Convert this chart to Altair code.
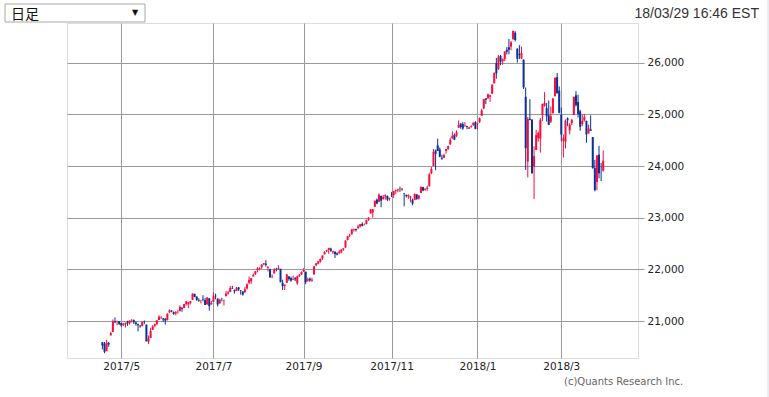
import altair as alt
import pandas as pd

# Daily candles (trading days 2017/04/18 - 2018/03/29)
opens = [
    # 2017 Apr
    20590, 20561, 20417, 20575, 20722, 20790, 20990, 20980, 20995,
    # May
    20962, 20925, 20940, 20985, 20960, 21005, 21015, 20970, 20940, 20910, 20900,
    20990, 20930, 20600, 20670, 20830, 20905, 20940, 21020, 21070, 21050, 21040,
    # Jun
    21020, 21170, 21200, 21170, 21150, 21180, 21190, 21260, 21250, 21330, 21320,
    21350, 21410, 21525, 21470, 21410, 21390, 21420, 21405, 21320, 21440, 21320,
    # Jul
    21370, 21490, 21430, 21340, 21410, 21400, 21480, 21530, 21560, 21640, 21600,
    21580, 21650, 21590, 21570, 21560, 21630, 21740, 21770, 21860,
    # Aug
    21900, 21990, 22010, 22040, 22100, 22110, 22030, 22000, 21850, 21920, 22010,
    22010, 22010, 21740, 21680, 21740, 21860, 21830, 21800, 21830, 21730, 21870, 21900,
    # Sep
    21960, 21950, 21780, 21820, 21780, 21900, 22080, 22110, 22150, 22210, 22290,
    22350, 22380, 22400, 22330, 22340, 22310, 22320, 22330, 22380,
    # Oct
    22420, 22570, 22650, 22680, 22760, 22780, 22800, 22830, 22880, 22870, 22880,
    22960, 23080, 23100, 23210, 23350, 23310, 23420, 23360, 23410, 23420, 23360,
    # Nov
    23440, 23440, 23520, 23530, 23560, 23540, 23470, 23440, 23410, 23390, 23340,
    23340, 23450, 23370, 23480, 23590, 23540, 23560, 23610, 23860, 24000,
    # Dec
    24300, 24400, 24320, 24160, 24160, 24290, 24330, 24420, 24540, 24600, 24590,
    24740, 24820, 24810, 24770, 24770, 24720, 24760, 24790, 24850,
    # 2018 Jan
    24810, 24850, 24970, 25115, 25310, 25310, 25340, 25400, 25600, 25990, 25880,
    26130, 26030, 26070, 26250, 26300, 26310, 26460, 26580, 26270, 26170,
    # Feb
    26080, 26060, 25340, 24085, 24916, 24900, 23990, 24310, 24540, 24530, 24990,
    25160, 25120, 24980, 24860, 25020, 25350, 25720, 25460,
    # Mar
    24990, 24488, 24470, 24920, 24690, 24830, 24990, 25370, 25240, 25060, 24810,
    24880, 24870, 24630, 24710, 24560, 23960, 23690, 24220, 23850, 23910,
]
highs = [
    20590, 20595, 20636, 20598, 20791, 21030, 21070, 21010, 21000,
    20963, 20960, 20970, 21005, 21010, 21040, 21030, 20990, 20950, 20920, 20990,
    21010, 20930, 20720, 20870, 20920, 20950, 21020, 21110, 21090, 21060, 21060,
    21145, 21225, 21210, 21185, 21190, 21215, 21305, 21260, 21330, 21390, 21370,
    21390, 21535, 21530, 21480, 21440, 21410, 21500, 21450, 21460, 21445, 21390,
    21560, 21530, 21440, 21430, 21450, 21410, 21580, 21580, 21680, 21680, 21610,
    21660, 21660, 21600, 21580, 21660, 21730, 21860, 21830, 21920,
    21970, 22040, 22040, 22100, 22120, 22180, 22060, 22010, 21900, 22020, 22030,
    22080, 22010, 21800, 21710, 21910, 21870, 21860, 21880, 21850, 21880, 21910, 21960,
    22020, 21960, 21840, 21840, 21840, 22070, 22120, 22160, 22210, 22270, 22350,
    22380, 22420, 22420, 22360, 22350, 22330, 22380, 22390, 22410,
    22560, 22650, 22690, 22780, 22790, 22790, 22860, 22880, 22910, 22890, 22960,
    23010, 23170, 23170, 23330, 23370, 23470, 23430, 23440, 23450, 23430, 23390,
    23500, 23520, 23540, 23560, 23600, 23570, 23480, 23450, 23450, 23420, 23370,
    23470, 23460, 23440, 23610, 23600, 23570, 23620, 23870, 23980, 24330,
    24320, 24530, 24360, 24220, 24240, 24330, 24390, 24550, 24672, 24630, 24690,
    24880, 24830, 24850, 24850, 24780, 24760, 24790, 24840, 24870,
    24830, 24940, 25105, 25300, 25310, 25400, 25380, 25580, 25810, 26090, 26150,
    26150, 26080, 26220, 26300, 26460, 26420, 26617, 26610, 26280, 26340,
    26310, 26060, 25520, 24950, 25293, 24900, 24380, 24700, 24670, 24930, 25210,
    25430, 25220, 25270, 25150, 25310, 25710, 25800, 25540,
    25130, 24610, 24900, 24940, 24830, 24910, 25350, 25450, 25380, 25090, 24990,
    25010, 24880, 24800, 24980, 24560, 24120, 24210, 24390, 24060, 24300,
]
lows = [
    20451, 20376, 20417, 20501, 20722, 20790, 20960, 20920, 20925,
    20890, 20900, 20875, 20905, 20930, 20970, 20940, 20910, 20800, 20870, 20900,
    20940, 20606, 20553, 20670, 20830, 20880, 20920, 21020, 21040, 20980, 20930,
    21010, 21150, 21170, 21120, 21110, 21140, 21190, 21180, 21250, 21300, 21250,
    21320, 21410, 21460, 21390, 21370, 21340, 21380, 21310, 21320, 21200, 21320,
    21370, 21420, 21280, 21340, 21380, 21300, 21480, 21510, 21560, 21620, 21530,
    21580, 21580, 21510, 21490, 21540, 21610, 21710, 21720, 21860,
    21890, 21940, 21980, 22010, 22080, 22050, 21960, 21840, 21830, 21920, 21960,
    21990, 21750, 21600, 21600, 21740, 21780, 21760, 21790, 21770, 21700, 21850, 21890,
    21950, 21710, 21760, 21760, 21760, 21900, 22060, 22100, 22130, 22180, 22290,
    22330, 22300, 22340, 22300, 22220, 22270, 22290, 22310, 22360,
    22420, 22560, 22620, 22670, 22730, 22730, 22780, 22810, 22830, 22850, 22870,
    22940, 23080, 23000, 23210, 23260, 23300, 23200, 23350, 23350, 23320, 23330,
    23400, 23380, 23460, 23490, 23500, 23520, 23220, 23390, 23360, 23300, 23240,
    23340, 23350, 23350, 23480, 23510, 23520, 23520, 23600, 23840, 24000,
    23920, 24290, 24170, 24120, 24150, 24240, 24310, 24410, 24520, 24500, 24560,
    24740, 24720, 24700, 24760, 24710, 24720, 24740, 24780, 24710,
    24710, 24830, 24970, 25100, 25200, 25300, 25240, 25400, 25600, 25690, 25860,
    25950, 25960, 26030, 26160, 26160, 26240, 26440, 26410, 26000, 26070,
    26070, 25490, 23924, 23779, 24882, 23850, 23360, 24310, 24470, 24260, 24870,
    25150, 24860, 24790, 24830, 25020, 25350, 25400, 25020,
    24480, 24163, 24340, 24770, 24610, 24790, 24990, 25150, 24940, 24680, 24770,
    24860, 24450, 24630, 24680, 23950, 23510, 23530, 23760, 23710, 23890,
]
closes = [
    20523, 20404, 20578, 20547, 20764, 20996, 20975, 20981, 20941,
    20913, 20950, 20958, 20951, 21007, 21012, 20976, 20943, 20919, 20897, 20982,
    20980, 20607, 20663, 20805, 20895, 20938, 21012, 21083, 21080, 21029, 21009,
    21144, 21206, 21184, 21136, 21174, 21183, 21272, 21236, 21328, 21375, 21360,
    21384, 21529, 21467, 21410, 21397, 21395, 21410, 21311, 21455, 21287, 21350,
    21479, 21478, 21320, 21414, 21409, 21409, 21532, 21553, 21638, 21630, 21575,
    21641, 21612, 21580, 21513, 21613, 21711, 21797, 21830, 21891,
    21964, 22016, 22026, 22093, 22118, 22085, 22049, 21844, 21858, 21994, 21999,
    22025, 21751, 21675, 21704, 21900, 21812, 21783, 21814, 21808, 21865, 21892, 21948,
    21988, 21753, 21808, 21785, 21798, 22057, 22119, 22158, 22203, 22268, 22331,
    22371, 22413, 22359, 22350, 22296, 22284, 22341, 22381, 22405,
    22558, 22642, 22662, 22775, 22774, 22761, 22831, 22873, 22841, 22872, 22957,
    22997, 23158, 23163, 23329, 23274, 23442, 23329, 23401, 23434, 23349, 23377,
    23435, 23516, 23539, 23548, 23557, 23563, 23462, 23422, 23440, 23409, 23271,
    23458, 23358, 23430, 23591, 23526, 23558, 23581, 23837, 23941, 24272,
    24232, 24290, 24181, 24141, 24211, 24329, 24386, 24505, 24585, 24509, 24652,
    24792, 24755, 24727, 24782, 24754, 24746, 24774, 24838, 24719,
    24824, 24923, 25075, 25296, 25283, 25386, 25369, 25575, 25803, 25793, 26116,
    26018, 26072, 26215, 26211, 26252, 26393, 26617, 26439, 26077, 26149,
    26187, 25521, 24346, 24913, 24893, 23860, 24191, 24601, 24640, 24893, 25200,
    25219, 24965, 24798, 24962, 25310, 25709, 25410, 25029,
    24609, 24538, 24875, 24884, 24801, 24895, 25336, 25179, 25007, 24758, 24874,
    24947, 24611, 24727, 24682, 23958, 23533, 24203, 23858, 23848, 24103,
]

# Axis ticks: first trading day of each labelled month (bar index)
tick_index = [9, 53, 96, 138, 179, 219]
tick_labels = ["2017/5", "2017/7", "2017/9", "2017/11", "2018/1", "2018/3"]
y_ticks = [21000, 22000, 23000, 24000, 25000, 26000]

df = pd.DataFrame({"i": list(range(len(closes))), "open": opens, "high": highs,
                   "low": lows, "close": closes})
df["dir"] = ["up" if c >= o else "down" for o, c in zip(opens, closes)]

W, H = 571, 335
PL, PT = 67, 23
FONT = "DejaVu Sans"

idx_str = "[" + ",".join(str(v) for v in tick_index) + "]"
lab_str = "[" + ",".join("'" + s + "'" for s in tick_labels) + "]"

x_scale = alt.Scale(domain=[-16.9, 255.6], nice=False, zero=False, padding=0)
x_enc = alt.X("i:Q", scale=x_scale,
              axis=alt.Axis(values=tick_index, labelExpr=f"{lab_str}[indexof({idx_str}, datum.value)]",
                            title=None, ticks=False, domain=False, grid=True,
                            gridColor="#9a9a9a", gridWidth=1, labelFont=FONT,
                            labelFontSize=10.5, labelColor="#222", labelPadding=3,
                            labelAngle=0))
y_scale = alt.Scale(domain=[20284, 26768], nice=False, zero=False, padding=0)
y_axis = alt.Axis(orient="right", values=y_ticks, format=",d", title=None,
                  grid=True, gridColor="#9a9a9a", gridWidth=1, domain=False,
                  ticks=True, tickSize=6, tickColor="#9a9a9a", labelFont=FONT,
                  labelFontSize=10.5, labelColor="#222", labelPadding=3)
color = alt.Color("dir:N", scale=alt.Scale(domain=["up", "down"], range=["#ff0a3c", "#0a3296"]),
                  legend=None)

base = alt.Chart(df)
wicks = base.mark_rule(strokeWidth=1).encode(
    x=x_enc, y=alt.Y("low:Q", scale=y_scale, axis=y_axis), y2="high:Q", color=color)
bodies = base.mark_bar(size=2).encode(
    x=alt.X("i:Q", scale=x_scale), y=alt.Y("open:Q", scale=y_scale), y2="close:Q", color=color)

one = pd.DataFrame({"k": [0]})
box = alt.Chart(one).mark_rect(fill="white", stroke="#a8a8a8", strokeWidth=1).encode(
    x=alt.value(5 - PL), x2=alt.value(145 - PL), y=alt.value(4 - PT), y2=alt.value(22 - PT))
box_txt = alt.Chart(pd.DataFrame({"t": ["日足"]})).mark_text(
    align="left", baseline="alphabetic", font="Noto Sans CJK JP", fontSize=14, color="#111").encode(
    text="t:N", x=alt.value(11 - PL), y=alt.value(19 - PT))
arrow = alt.Chart(pd.DataFrame({"t": ["▼"]})).mark_text(
    align="center", baseline="middle", font=FONT, fontSize=8, color="#111").encode(
    text="t:N", x=alt.value(135 - PL), y=alt.value(13 - PT))
stamp = alt.Chart(pd.DataFrame({"t": ["18/03/29 16:46 EST"]})).mark_text(
    align="right", baseline="alphabetic", font="Liberation Sans", fontSize=14, color="#333").encode(
    text="t:N", x=alt.value(759 - PL), y=alt.value(18 - PT))
credit = alt.Chart(pd.DataFrame({"t": ["(c)Quants Research Inc."]})).mark_text(
    align="left", baseline="middle", font=FONT, fontSize=10, color="#666").encode(
    text="t:N", x=alt.value(564 - PL), y=alt.value(382 - PT))
edge = alt.Chart(one).mark_rule(color="#d4d8e0", strokeWidth=1).encode(
    x=alt.value(768 - PL), y=alt.value(-PT), y2=alt.value(397 - PT))

chart = alt.layer(wicks, bodies, box, box_txt, arrow, stamp, credit, edge).properties(
    width=W, height=H,
    autosize=alt.AutoSizeParams(type="none"),
    padding={"left": PL, "top": PT, "right": 769 - PL - W, "bottom": 397 - PT - H},
).configure_view(stroke="#9a9a9a", strokeWidth=1).configure(background="white")

chart.save("out.html", embed_options={"renderer": "svg", "actions": False})
